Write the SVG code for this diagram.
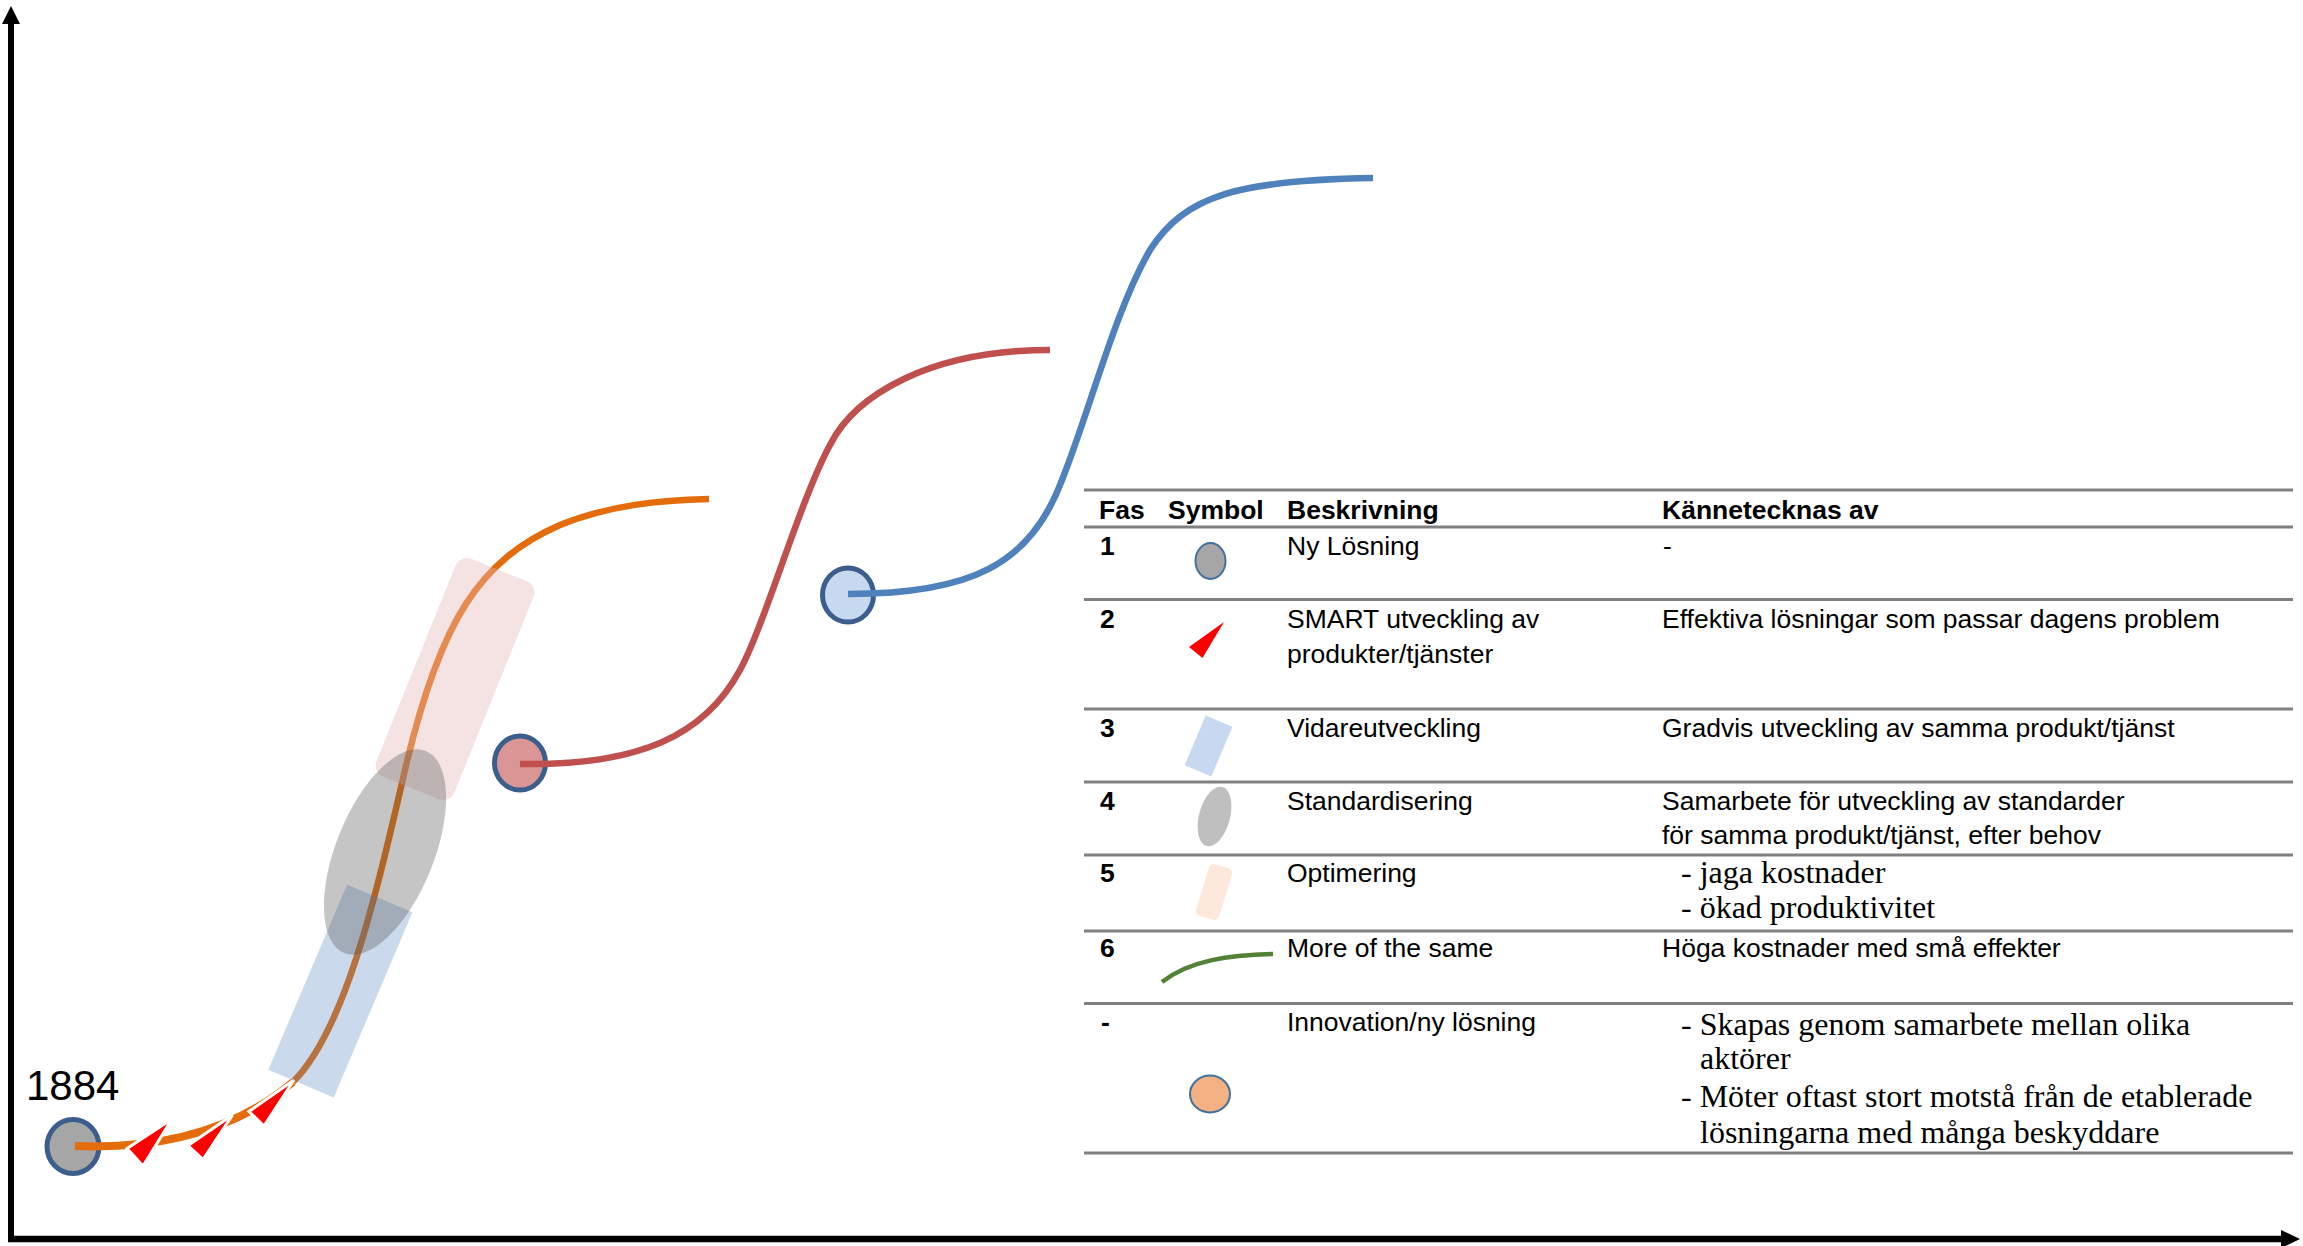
<svg xmlns="http://www.w3.org/2000/svg" width="2303" height="1246" viewBox="0 0 2303 1246">
<style>
.t{font-family:"Liberation Sans",Arial,sans-serif;font-size:26.5px;fill:#000}
.b{font-weight:bold}
.s{font-family:"Liberation Serif","Times New Roman",serif;font-size:32px;fill:#000}
.rule{stroke:#808080;stroke-width:3}
.node{stroke:#3B5E8C;stroke-width:5}
.sym{stroke:#41719C;stroke-width:2}
.curve{fill:none;stroke-width:6.5}
</style>
<rect width="2303" height="1246" fill="#fff"/>
<g id="axes">
<line x1="11" y1="1239" x2="11" y2="20" stroke="#000" stroke-width="6"/>
<polygon points="11,6 2,24 20,24" fill="#000"/>
<line x1="8" y1="1239" x2="2284" y2="1239" stroke="#000" stroke-width="6.5"/>
<polygon points="2300,1239 2281,1230 2281,1248" fill="#000"/>
</g>
<g id="label-1884"><text x="26" y="1100" font-family="Liberation Sans, Arial, sans-serif" font-size="42">1884</text></g>
<g id="node-start"><ellipse cx="73" cy="1146.5" rx="26" ry="27" fill="#A6A6A6" class="node"/></g>
<g id="node-red"><ellipse cx="520" cy="763" rx="25.5" ry="27" fill="#D99694" class="node"/></g>
<g id="node-blue"><ellipse cx="848" cy="595" rx="25.5" ry="27" fill="#C6D9F1" class="node"/></g>
<g id="connectors">
<path fill="none" stroke="#E46C0A" stroke-width="8" d="M75,1146 C150,1149 230,1135 293,1082"/>
<path class="curve" stroke="#E46C0A" d="M293,1082 C345,1030 375,900 405,770 C440,620 480,560 560,525 C610,505 660,500 709,499"/>
<path class="curve" stroke="#C0504D" d="M520,764 C640,766 705,735 740,670 C765,624 800,500 830,445 C855,395 930,350 1050,350"/>
<path class="curve" stroke="#4F81BD" d="M848,594 C970,594 1030,565 1062,480 C1090,410 1115,310 1150,250 C1185,195 1240,180 1373,178"/>
</g>
<g id="smart-steps" fill="#FF0000" stroke="#fff" stroke-width="3" stroke-linejoin="miter">
<polygon points="127,1148.5 172,1119 143,1166"/>
<polygon points="188,1145.5 232.5,1115 203,1159.5"/>
<polygon points="249,1111.5 294,1080 264,1126"/>
</g>
<g id="phase3-rect"><rect x="-35.5" y="-100.75" width="71" height="201.5" fill="#4F81BD" fill-opacity="0.3" transform="translate(340.4 991) rotate(23)"/></g>
<g id="phase5-rect"><rect x="-42" y="-117.5" width="84" height="235" rx="12" fill="#E6B9B8" fill-opacity="0.4" transform="translate(455 679) rotate(22)"/></g>
<g id="phase4-ellipse"><ellipse cx="0" cy="0" rx="49" ry="109" fill="#595959" fill-opacity="0.35" transform="translate(385 852) rotate(22)"/></g>
<g id="table">
<line class="rule" x1="1084" y1="490" x2="2293" y2="490"/>
<line class="rule" x1="1084" y1="527" x2="2293" y2="527"/>
<line class="rule" x1="1084" y1="599.5" x2="2293" y2="599.5"/>
<line class="rule" x1="1084" y1="709" x2="2293" y2="709"/>
<line class="rule" x1="1084" y1="782" x2="2293" y2="782"/>
<line class="rule" x1="1084" y1="855" x2="2293" y2="855"/>
<line class="rule" x1="1084" y1="931" x2="2293" y2="931"/>
<line class="rule" x1="1084" y1="1003.5" x2="2293" y2="1003.5"/>
<line class="rule" x1="1084" y1="1153" x2="2293" y2="1153"/>
</g>
<g id="row-header">
<text class="t b" x="1099" y="519">Fas</text>
<text class="t b" x="1168" y="519">Symbol</text>
<text class="t b" x="1287" y="519">Beskrivning</text>
<text class="t b" x="1662" y="519">Kännetecknas av</text>
</g>
<g id="row-1">
<text class="t b" x="1100" y="555">1</text>
<ellipse cx="1210.5" cy="561" rx="15" ry="18" fill="#A6A6A6" class="sym"/>
<text class="t" x="1287" y="555">Ny Lösning</text>
<text class="t" x="1663" y="555">-</text>
</g>
<g id="row-2">
<text class="t b" x="1100" y="628">2</text>
<polygon points="1224,622 1189,647 1202.5,658" fill="#FF0000"/>
<text class="t" x="1287" y="628">SMART utveckling av</text>
<text class="t" x="1287" y="663">produkter/tjänster</text>
<text class="t" x="1662" y="628">Effektiva lösningar som passar dagens problem</text>
</g>
<g id="row-3">
<text class="t b" x="1100" y="737">3</text>
<rect x="-14.5" y="-27" width="29" height="54" fill="#C6D9F1" transform="translate(1208.5 746) rotate(23)"/>
<text class="t" x="1287" y="737">Vidareutveckling</text>
<text class="t" x="1662" y="737">Gradvis utveckling av samma produkt/tjänst</text>
</g>
<g id="row-4">
<text class="t b" x="1100" y="810">4</text>
<ellipse cx="0" cy="0" rx="15.5" ry="30.5" fill="#BFBFBF" transform="translate(1214.5 816.5) rotate(15)"/>
<text class="t" x="1287" y="810">Standardisering</text>
<text class="t" x="1662" y="810">Samarbete för utveckling av standarder</text>
<text class="t" x="1662" y="844">för samma produkt/tjänst, efter behov</text>
</g>
<g id="row-5">
<text class="t b" x="1100" y="882">5</text>
<rect x="-12" y="-27" width="24" height="54" rx="5" fill="#FCE9DC" transform="translate(1214 892) rotate(17)"/>
<text class="t" x="1287" y="882">Optimering</text>
<text class="s" x="1681" y="883">- jaga kostnader</text>
<text class="s" x="1681" y="918">- ökad produktivitet</text>
</g>
<g id="row-6">
<text class="t b" x="1100" y="957">6</text>
<path d="M1162,982 C1190,960 1230,955 1273,954" fill="none" stroke="#538135" stroke-width="4.5"/>
<text class="t" x="1287" y="957">More of the same</text>
<text class="t" x="1662" y="957">Höga kostnader med små effekter</text>
</g>
<g id="row-7">
<text class="t b" x="1101" y="1031">-</text>
<ellipse cx="1210" cy="1094" rx="20" ry="18.5" fill="#F4B183" class="sym"/>
<text class="t" x="1287" y="1031">Innovation/ny lösning</text>
<text class="s" x="1681" y="1035">- Skapas genom samarbete mellan olika</text>
<text class="s" x="1700" y="1069">aktörer</text>
<text class="s" x="1681" y="1107">- Möter oftast stort motstå från de etablerade</text>
<text class="s" x="1700" y="1143">lösningarna med många beskyddare</text>
</g>
</svg>
